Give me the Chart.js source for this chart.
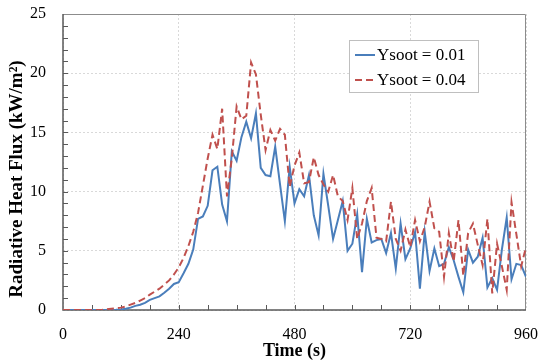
<!DOCTYPE html>
<html>
<head>
<meta charset="utf-8">
<script src="https://cdn.jsdelivr.net/npm/chart.js@4.4.0/dist/chart.umd.min.js"></script>
<style>
html, body { margin: 0; padding: 0; background: #fff; }
</style>
</head>
<body>
<canvas id="chart" width="540" height="362"></canvas>
<script>
var timeSec = [
    0, 10, 20, 30, 40, 50, 60, 70, 80, 90,
    100, 110, 120, 130, 140, 150, 160, 170, 180, 190,
    200, 210, 220, 230, 240, 250, 260, 270, 280, 290,
    300, 310, 320, 330, 340, 350, 360, 370, 380, 390,
    400, 410, 420, 430, 440, 450, 460, 470, 480, 490,
    500, 510, 520, 530, 540, 550, 560, 570, 580, 590,
    600, 610, 620, 630, 640, 650, 660, 670, 680, 690,
    700, 710, 720, 730, 740, 750, 760, 770, 780, 790,
    800, 810, 820, 830, 840, 850, 860, 870, 880, 890,
    900, 910, 920, 930, 940, 950, 960
];

// Ysoot = 0.01 (solid blue)
var fluxSoot001 = [
    0, 0, 0, 0, 0, 0, 0, 0, 0, 0,
    0, 0.02, 0.05, 0.1, 0.2, 0.35, 0.45, 0.6, 0.85, 1.0,
    1.15, 1.45, 1.8, 2.2, 2.35, 3.1, 3.9, 5.1, 7.7, 7.9,
    8.8, 11.8, 12.1, 8.9, 7.5, 13.4, 12.6, 14.6, 15.9, 14.5,
    16.6, 12.0, 11.4, 11.3, 13.8, 10.6, 7.5, 12.1, 9.0, 10.2,
    9.6, 11.4, 8.0, 6.3, 11.5, 8.8, 6.0, 7.6, 9.2, 5.0,
    5.6, 8.1, 3.2, 7.7, 5.7, 5.9, 6.0, 4.8, 6.5, 3.5,
    7.3, 4.3, 5.2, 6.6, 1.8, 6.6, 3.3, 5.2, 3.7, 3.9,
    5.3, 4.2, 2.8, 1.5, 5.1, 4.0, 4.5, 6.1, 1.9, 2.7,
    1.7, 5.1, 7.8, 2.6, 3.9, 3.8, 2.8
];

// Ysoot = 0.04 (dashed red)
var fluxSoot004 = [
    0, 0, 0, 0, 0, 0, 0, 0, 0, 0.05,
    0.1, 0.15, 0.2, 0.3, 0.45, 0.6, 0.8, 1.0, 1.3, 1.55,
    1.8, 2.15, 2.5, 3.0, 3.6, 4.4, 5.4, 6.6, 8.2, 10.5,
    12.8, 14.8, 13.6, 17.0, 9.6, 12.8, 17.2, 16.1, 16.4, 20.9,
    19.9, 16.5, 13.5, 15.2, 14.3, 15.3, 14.8, 10.4, 12.2, 13.3,
    10.7, 10.8, 12.9, 11.4, 10.6, 10.0, 11.4, 9.6, 9.2, 7.6,
    10.3, 6.0, 7.3, 9.2, 10.3, 6.1, 6.0, 5.8, 9.15, 6.0,
    5.0, 6.8, 5.3, 7.6, 5.8, 7.0, 9.15, 6.9, 6.6, 2.8,
    6.5, 4.1, 7.6, 2.9, 6.5, 7.3, 5.5, 3.8, 7.7, 1.4,
    5.6, 3.7, 1.7, 9.1, 6.4, 3.7, 5.3
];

var seriesLabels = ["Ysoot = 0.01", "Ysoot = 0.04"];
var xTitle = "Time (s)";
var yTitle = "Radiative Heat Flux (kW/m\u00b2)";

var SERIF = "'Liberation Serif', 'Times New Roman', serif";
var BLUE = "#4a7ebb";
var RED = "#c0504d";
var RED_DASH = [7, 4];

function toPoints(xs, ys) {
    var pts = [];
    for (var i = 0; i < xs.length; i++) {
        pts.push({ x: xs[i], y: ys[i] });
    }
    return pts;
}

// frame and inward minor ticks, drawn under the lines
var framePlugin = {
    id: "frameTicks",
    beforeDatasetsDraw: function(chart) {
        var ctx = chart.ctx;
        var a = chart.chartArea;
        var xs = chart.scales.x;
        var ys = chart.scales.y;
        ctx.save();
        ctx.strokeStyle = "#8c8c8c";
        ctx.lineWidth = 1;
        ctx.beginPath();
        ctx.moveTo(a.left, a.top + 0.5);
        ctx.lineTo(a.right - 0.5, a.top + 0.5);
        ctx.lineTo(a.right - 0.5, a.bottom);
        ctx.stroke();

        ctx.strokeStyle = "#595959";
        ctx.lineWidth = 1.5;
        ctx.beginPath();
        ctx.moveTo(a.left, a.top);
        ctx.lineTo(a.left, a.bottom);
        ctx.lineTo(a.right, a.bottom);
        ctx.stroke();

        ctx.lineWidth = 1;
        ctx.beginPath();
        for (var v = 1; v < 25; v++) {
            var py = Math.round(ys.getPixelForValue(v)) + 0.5;
            ctx.moveTo(a.left, py);
            ctx.lineTo(a.left + 5, py);
        }
        for (var t = 60; t < 960; t += 60) {
            var px = Math.round(xs.getPixelForValue(t)) + 0.5;
            ctx.moveTo(px, a.bottom);
            ctx.lineTo(px, a.bottom - 5);
        }
        ctx.stroke();
        ctx.restore();
    },
    afterDraw: function(chart) {
        var ctx = chart.ctx;
        var a = chart.chartArea;

        // y title sits a little below the plot centre, as in the original
        ctx.save();
        ctx.translate(17, 179);
        ctx.rotate(-Math.PI / 2);
        ctx.font = "bold 19px " + SERIF;
        ctx.fillStyle = "#000";
        ctx.textAlign = "center";
        ctx.textBaseline = "middle";
        ctx.fillText(yTitle, 0, 0);
        ctx.restore();

        var bx = a.right - 177;
        var by = a.top + 26;
        var bw = 129;
        var bh = 52;
        ctx.save();
        ctx.fillStyle = "#ffffff";
        ctx.fillRect(bx, by, bw, bh);
        ctx.strokeStyle = "#bfbfbf";
        ctx.lineWidth = 1;
        ctx.strokeRect(bx + 0.5, by + 0.5, bw, bh);

        ctx.font = "17px " + SERIF;
        ctx.fillStyle = "#000";
        ctx.textBaseline = "middle";
        var sets = chart.data.datasets;
        for (var i = 0; i < sets.length; i++) {
            var ly = by + 15 + i * 25;
            ctx.strokeStyle = sets[i].borderColor;
            ctx.lineWidth = 2;
            ctx.setLineDash(sets[i].borderDash || []);
            ctx.beginPath();
            ctx.moveTo(bx + 6, ly);
            ctx.lineTo(bx + 26, ly);
            ctx.stroke();
            ctx.setLineDash([]);
            ctx.fillText(sets[i].label, bx + 28, ly + 1);
        }
        ctx.restore();
    }
};

new Chart(document.getElementById("chart"), {
    type: "line",
    data: {
        datasets: [
            {
                label: seriesLabels[0],
                data: toPoints(timeSec, fluxSoot001),
                borderColor: BLUE,
                borderWidth: 2,
                pointRadius: 0,
                tension: 0,
                fill: false,
                order: 1
            },
            {
                label: seriesLabels[1],
                data: toPoints(timeSec, fluxSoot004),
                borderColor: RED,
                borderDash: RED_DASH,
                borderWidth: 2,
                pointRadius: 0,
                tension: 0,
                fill: false,
                order: 0
            }
        ]
    },
    options: {
        responsive: false,
        animation: false,
        devicePixelRatio: 1,
        layout: { padding: { top: 14, right: 14, left: 0, bottom: 0 } },
        plugins: {
            legend: { display: false },
            tooltip: { enabled: false }
        },
        scales: {
            x: {
                type: "linear",
                min: 0,
                max: 960,
                ticks: {
                    stepSize: 240,
                    color: "#000",
                    padding: 15,
                    maxRotation: 0,
                    font: { family: SERIF, size: 16 }
                },
                grid: { color: "#d9d9d9", lineWidth: 1, drawTicks: false },
                border: { display: false, dash: [2, 2] },
                title: {
                    display: true,
                    text: xTitle,
                    color: "#000",
                    padding: { top: 0, bottom: 0 },
                    font: { family: SERIF, size: 18, weight: "bold" }
                },
                afterFit: function(scale) {
                    scale.height = 52;
                    scale.paddingLeft = 0;
                    scale.paddingRight = 0;
                }
            },
            y: {
                min: 0,
                max: 25,
                ticks: {
                    stepSize: 5,
                    color: "#000",
                    padding: 17,
                    font: { family: SERIF, size: 16 }
                },
                grid: { color: "#d9d9d9", lineWidth: 1, drawTicks: false },
                border: { display: false, dash: [2, 2] },
                title: { display: false },
                afterFit: function(scale) {
                    scale.width = 63;
                    scale.paddingTop = 0;
                    scale.paddingBottom = 0;
                }
            }
        }
    },
    plugins: [framePlugin]
});
</script>
</body>
</html>
